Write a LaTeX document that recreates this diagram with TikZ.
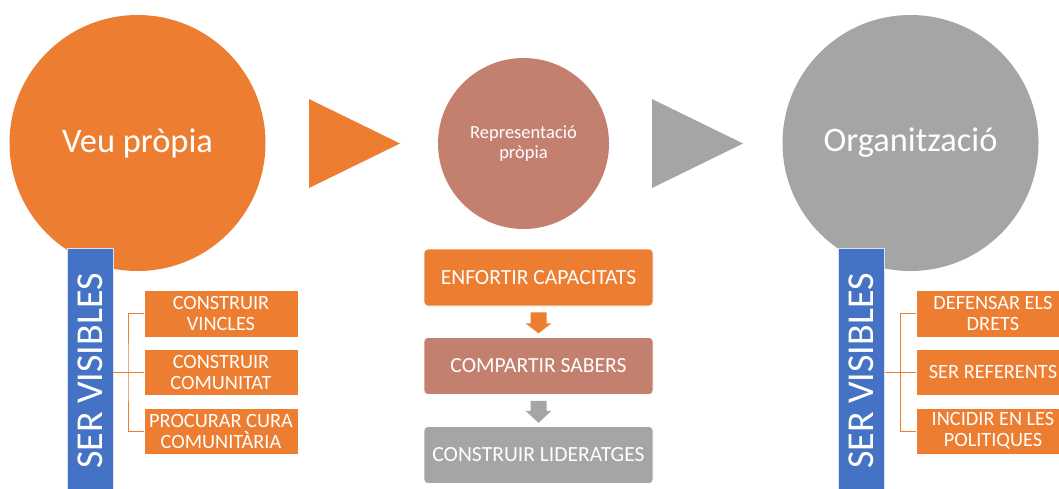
\documentclass[tikz,border=0pt]{standalone}
\usepackage{fontspec}
\setmainfont{Carlito}
\usetikzlibrary{calc}
\definecolor{cOrange}{HTML}{ED7D31}
\definecolor{cGray}{HTML}{A5A5A5}
\definecolor{cBlue}{HTML}{4472C4}
\definecolor{cTerra}{RGB}{196,128,111}
\tikzset{
  bigcircle/.style={circle, inner sep=0pt, minimum size=256pt, text=white, font=\fontsize{34.4}{38}\selectfont},
  midcircle/.style={circle, inner sep=0pt, minimum size=171pt, fill=cTerra, text=white, align=center, font=\fontsize{18.5}{20}\selectfont},
  sidebox/.style={rectangle, fill=cOrange, draw=white, line width=0.6pt, minimum width=154pt, minimum height=46pt, inner sep=0pt, text=white, align=center, font=\fontsize{20.3}{21}\selectfont},
  midbox/.style={rectangle, rounded corners=4pt, draw=white, line width=0.6pt, minimum width=229pt, minimum height=57pt, inner sep=0pt, text=white, align=center, font=\fontsize{21.6}{23}\selectfont},
  vbar/.style={rectangle, fill=cBlue, draw=white!80!cBlue, line width=0.6pt, minimum width=46pt, minimum height=250pt, inner sep=0pt},
  vbartext/.style={rotate=90, text=white, font=\fontsize{38}{40}\selectfont, inner sep=0pt},
  conn/.style={draw=cOrange, line width=1pt},
}
\begin{document}
\begin{tikzpicture}[x=1pt, y=-1pt]
\useasboundingbox (0,0) rectangle (1059,488);
\clip (0,0) rectangle (1059,488);
% circles
\node[bigcircle, fill=cOrange] (c1) at (137.5,143) {Veu pròpia};
\node[midcircle] (c2) at (523.5,143.5) {Representació\\pròpia};
\node[bigcircle, fill=cGray] (c3) at (910.5,143) {Organització};
% triangles
\fill[cOrange] (309,99) -- (400,143.5) -- (309,188) -- cycle;
\fill[cGray] (652,99) -- (743,143.5) -- (652,188) -- cycle;
% left column
\node[vbar] (lbar) at (90,373) {};
\node[vbartext] (ltext) at (90,371) {SER VISIBLES};
\node[sidebox, minimum height=47pt] (lb1) at (221,313.5) {CONSTRUIR\\VINCLES};
\node[sidebox] (lb2) at (221,372) {CONSTRUIR\\COMUNITAT};
\node[sidebox] (lb3) at (221,431) {PROCURAR CURA\\COMUNITÀRIA};
\coordinate (lj) at (128,372);
\draw[conn] (lbar.east |- lj) -- (lj);
\draw[conn] (lb1.west) -| (lj) |- (lb3.west);
\draw[conn] (lj) -- (lb2.west);
% middle column
\node[midbox, fill=cOrange] (mb1) at (538.5,277.5) {ENFORTIR CAPACITATS};
\node[midbox, fill=cTerra] (mb2) at (538.5,366) {COMPARTIR SABERS};
\node[midbox, fill=cGray] (mb3) at (538.5,455) {CONSTRUIR LIDERATGES};
\fill[cOrange] ($(mb1.south)+(-8,6)$) -- ($(mb1.south)+(8,6)$) -- ($(mb1.south)+(8,17)$) -- ($(mb1.south)+(13,17)$) -- ($(mb1.south)+(0,27)$) -- ($(mb1.south)+(-13,17)$) -- ($(mb1.south)+(-8,17)$) -- cycle;
\fill[cGray] ($(mb2.south)+(-8,6)$) -- ($(mb2.south)+(8,6)$) -- ($(mb2.south)+(8,16)$) -- ($(mb2.south)+(13,16)$) -- ($(mb2.south)+(0,28)$) -- ($(mb2.south)+(-13,16)$) -- ($(mb2.south)+(-8,16)$) -- cycle;
% right column
\node[vbar] (rbar) at (861.5,373) {};
\node[vbartext] (rtext) at (861.5,371) {SER VISIBLES};
\node[sidebox, minimum height=47pt] (rb1) at (993,313.5) {DEFENSAR ELS\\DRETS};
\node[sidebox] (rb2) at (993,372) {SER REFERENTS};
\node[sidebox] (rb3) at (993,431) {INCIDIR EN LES\\POLITIQUES};
\coordinate (rj) at (900,372);
\draw[conn] (rbar.east |- rj) -- (rj);
\draw[conn] (rb1.west) -| (rj) |- (rb3.west);
\draw[conn] (rj) -- (rb2.west);
\end{tikzpicture}
\end{document}
